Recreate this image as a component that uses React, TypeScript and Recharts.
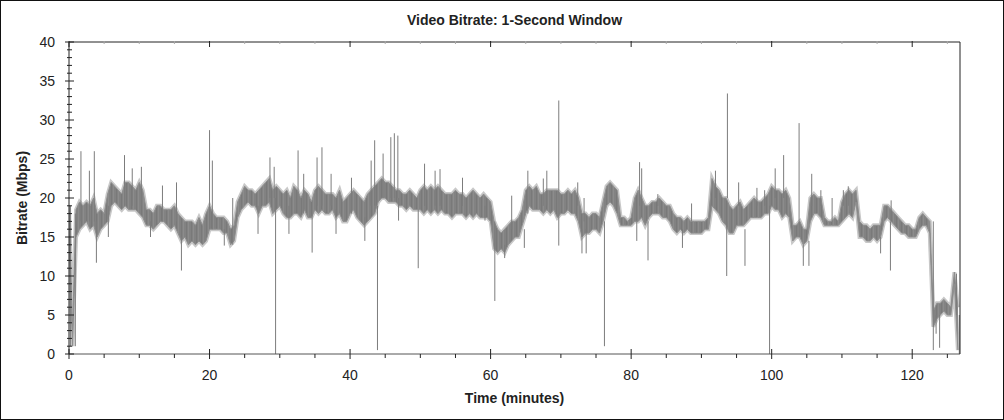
import React from "react";
import { ComposedChart, Area, Line, XAxis, YAxis } from "recharts";

// band envelope, one pair per half minute (Mbps)
const STEP_MIN = 0.5;
const BAND_LOW = [
  15, 1, 15, 16, 16.5, 17, 16, 16.5, 15, 16,
  16.5, 17, 19, 19.5, 19, 18.5, 19, 18.5, 18.5, 18.5,
  18, 17.5, 16.5, 16.5, 16, 16.5, 17, 17, 16.5, 16,
  16.5, 15.5, 14.5, 15, 14, 14.5, 14, 14.5, 14, 14.5,
  16, 16, 16, 16, 15.5, 15.5, 14, 14.5, 17.5, 18.5,
  19, 19.5, 19, 19, 18, 19, 19, 19.5, 18, 18.5,
  19, 18, 17.5, 17.5, 18, 18, 17.5, 18.5, 17.5, 17.5,
  18.5, 18, 18.5, 18, 18, 18.5, 17.5, 18, 17, 17,
  18, 18.5, 17.5, 17, 16.5, 17, 17.5, 18, 19.5, 20,
  20, 19.5, 19.5, 19.5, 19, 19, 18.5, 19, 18.5, 18.5,
  18.5, 18, 18.5, 18, 18.5, 18, 18.5, 18, 18, 17.5,
  18, 18, 18, 17.5, 18, 17.5, 18, 17.5, 17.5, 17.5,
  17, 13.5, 13, 13.5, 13, 14, 14.5, 15, 15, 16.5,
  18, 19, 18.5, 18.5, 18.5, 18, 18.5, 18, 18.5, 17.5,
  18, 18, 18.5, 18, 18, 17, 15, 15.5, 15.5, 16,
  16, 15.5, 17, 19, 19.5, 19, 18, 16.5, 16.5, 16.5,
  16.5, 17, 17, 17.5, 16.5, 17.5, 18, 18, 18, 17.5,
  17.5, 17, 16, 15.5, 16, 15.5, 16, 15.5, 15.5, 15.5,
  15.5, 16, 16, 19, 18.5, 18, 17, 16.5, 15.5, 15.5,
  16.5, 16.5, 16.5, 17, 17.5, 17.5, 17.5, 17.5, 18, 18,
  19, 18.5, 18.5, 17.5, 18, 17.5, 14.5, 15, 15, 14,
  14.5, 17, 18, 18, 17.5, 16.5, 16.5, 16.5, 16.5, 16.5,
  17, 17.5, 18, 17.5, 19.5, 15, 15, 14.5, 14.5, 15,
  14.5, 15, 17, 17.5, 17, 16.5, 16, 15.5, 15.5, 15,
  15, 15, 16, 16.5, 16.5, 15.5, 3.5, 4.5, 5, 5.5,
  5, 5, 9, 0.5,
];
const BAND_HIGH = [
  19, 3, 18.5, 19.5, 19, 19.5, 19, 20, 18, 18.5,
  18, 20.5, 22, 21.5, 21, 20.5, 22, 22, 21.5, 21,
  22, 21, 18.5, 18.5, 18, 19, 19, 18.5, 18.5, 18.5,
  19, 18, 17.5, 17, 17, 17, 16.5, 17.5, 16.5, 18,
  19, 18, 17.5, 17.5, 17.5, 17, 16, 16.5, 19.5, 20.5,
  21.5, 21, 21, 20.5, 21, 21.5, 22, 22.5, 21, 21.5,
  21, 20.5, 21, 20, 21.5, 21, 20, 21, 20.5, 19.5,
  21, 21.5, 21, 20.5, 20.5, 20.5, 20, 21, 19.5, 20,
  20.5, 21, 20.5, 20, 19.5, 20.5, 21, 21.5, 22, 22.5,
  22, 22, 21.5, 21, 21, 20.5, 20.5, 21, 20.5, 20,
  21, 21.5, 21, 21.5, 21, 21.5, 21, 20.5, 20.5, 20.5,
  21, 20.5, 20.5, 20, 20.5, 21, 20.5, 20, 20.5, 20,
  19.5, 17, 16, 15.5, 16, 16.5, 17, 17, 17.5, 18.5,
  21, 21.5, 21, 21.5, 20.5, 20.5, 21, 21, 21, 21,
  20.5, 20.5, 21, 20.5, 21, 20, 18, 18, 17.5, 18,
  18, 17.5, 19.5, 21.5, 22, 21.5, 21, 17.5, 17.5, 17,
  17.5, 20, 21, 20, 19, 19, 19.5, 19.5, 20, 19.5,
  19, 19, 18, 17.5, 17.5, 17, 17.5, 17, 17, 17,
  17, 17, 17.5, 22.5, 21.5, 21, 20, 20, 19, 18.5,
  19, 19.5, 18.5, 19, 19.5, 20, 19.5, 19.5, 20, 20.5,
  21.5, 21, 21, 20.5, 21, 20, 16.5, 16.5, 17, 16,
  16, 20, 20.5, 20, 20, 17.5, 17, 17, 17.5, 17,
  19.5, 20.5, 21, 20.5, 21, 17, 16.5, 16.5, 16, 16.5,
  16.5, 16.5, 19, 19, 18.5, 18, 17.5, 17, 16.5, 16.5,
  16, 16, 17.5, 18, 17.5, 17, 5.5, 6.5, 6.5, 7,
  6.5, 6, 10.5, 6,
];

// single-second peaks and drops: [minute, low, high]
const SPIKES: [number, number, number][] = [
  [0.2, 1, 19], [0.9, 1, 18], [1.7, 17, 26], [2.9, 17, 23.5], [3.6, 17, 26],
  [3.9, 11.7, 17], [5.6, 15, 19], [7.9, 19, 25.5], [9.0, 19, 23.8], [10.3, 19, 24],
  [11.6, 15, 17], [13.3, 17, 21.6], [15.3, 17, 22], [16.0, 10.7, 15], [20.0, 16, 28.7],
  [20.4, 16, 24.8], [22.1, 13.9, 16], [23.3, 14, 20], [26.9, 15.4, 19], [28.6, 20, 25.2],
  [29.2, 20, 24], [29.4, 0, 20], [31.3, 15.4, 19], [32.6, 18, 26.1], [33.4, 18, 23.1],
  [34.6, 13, 18], [35.3, 19, 25.2], [36.0, 19, 26.5], [37.3, 19, 23.1], [38.0, 15.4, 18.5],
  [40.2, 18, 22.6], [42.1, 14.5, 17.5], [43.0, 19, 24.8], [43.5, 19, 27.4], [43.9, 0.5, 19],
  [44.7, 20, 25.7], [45.8, 20, 27.8], [46.3, 20, 28.3], [46.8, 20, 28], [46.9, 17.1, 20],
  [49.7, 11, 18.5], [50.6, 19, 24.4], [52.1, 19, 23.5], [52.8, 19, 23.7], [56.0, 19, 22.6],
  [59.2, 17.1, 19], [60.6, 6.8, 17], [62.0, 12.3, 14], [63.0, 16, 20.3], [64.8, 13.6, 16],
  [65.3, 18, 23.5], [67.5, 19, 22.5], [68.0, 19, 23.5], [69.7, 13.9, 32.5], [72.4, 19, 22],
  [73.0, 12.9, 16], [73.3, 17, 20], [73.6, 12.9, 16], [76.2, 1, 17], [80.8, 14.5, 17],
  [81.2, 19, 24.6], [81.5, 19, 23.8], [82.4, 12, 17], [83.8, 19, 20.5], [87.3, 13.6, 16],
  [88.6, 17, 19.3], [92.0, 20, 23.5], [93.6, 10, 17], [93.7, 20, 33.4], [95.3, 19, 22],
  [96.2, 11.3, 16], [97.9, 19, 21.3], [99.0, 19, 21], [99.7, 0, 19], [100.5, 20, 23.8],
  [101.7, 20, 25.5], [103.9, 15, 29.6], [104.5, 11.3, 14], [105.3, 11.3, 14.5], [105.7, 19, 23.1],
  [107.0, 19, 21], [108.6, 17, 20], [110.2, 19, 21], [110.9, 19, 21.5], [115.5, 12.9, 15],
  [116.9, 10.7, 17], [117.0, 17, 19.7], [123.0, 0.5, 17], [123.4, 2.6, 5], [123.9, 0.8, 5],
  [126.3, 5, 10.3], [126.7, 0, 5],
];

const X_MAX = 126.8;
const X_TICKS = [0, 5, 10, 15, 20, 25, 30, 35, 40, 45, 50, 55, 60, 65, 70, 75, 80, 85, 90, 95, 100, 105, 110, 115, 120, 125];
const Y_TICKS = Array.from({ length: 41 }, (_, i) => i);

const FONT = '"Liberation Sans", Arial, sans-serif';
const INK = "#222";

const bandData = BAND_LOW.map((lo, i) => ({ t: i * STEP_MIN, lo, hi: BAND_HIGH[i] }));
const spikeData = SPIKES.flatMap(([t, lo, hi]) => [
  { t, v: lo },
  { t, v: hi },
  { t, v: null },
]);
const bandRange = (d: any) => [d.lo, d.hi];

function LeftTick(props: any) {
  const { x, y, payload } = props;
  const major = payload.value % 5 === 0;
  return (
    <g>
      <line x1={major ? x - 4 : x - 2} x2={major ? x + 5 : x + 3} y1={y} y2={y} stroke={INK} />
      {major && (
        <text x={x - 14} y={y + 5} textAnchor="end" fontSize={14} fill={INK} fontFamily={FONT}>
          {payload.value}
        </text>
      )}
    </g>
  );
}

function RightTick(props: any) {
  const { x, y, payload } = props;
  const major = payload.value % 5 === 0;
  return (
    <g>
      <line x1={major ? x - 5 : x - 3} x2={major ? x + 4 : x + 2} y1={y} y2={y} stroke={INK} />
      {major && (
        <text x={x + 13} y={y + 5} textAnchor="start" fontSize={14} fill={INK} fontFamily={FONT}>
          {payload.value}
        </text>
      )}
    </g>
  );
}

function BottomTick(props: any) {
  const { x, y, payload } = props;
  const major = payload.value % 20 === 0;
  return (
    <g>
      <line x1={x} x2={x} y1={major ? y - 5 : y} y2={major ? y + 5 : y + 4} stroke={INK} />
      {major && (
        <text x={x} y={y + 26} textAnchor="middle" fontSize={14} fill={INK} fontFamily={FONT}>
          {payload.value}
        </text>
      )}
    </g>
  );
}

function TopTick(props: any) {
  const { x, y, payload } = props;
  const major = payload.value % 20 === 0;
  return <line x1={x} x2={x} y1={y - 1} y2={major ? y + 5 : y + 2} stroke={major ? INK : "#aaa"} />;
}

export default function App() {
  return (
    <div style={{ position: "fixed", left: 0, top: 0, width: 1004, height: 420, background: "#fff", fontFamily: FONT }}>
      <ComposedChart
        width={1004}
        height={420}
        data={bandData}
        margin={{ top: 12, right: 0, bottom: 0, left: 0 }}
        style={{ position: "absolute", left: 0, top: 0 }}
      >
        <defs>
          <pattern id="streaks" width="5" height="6" patternUnits="userSpaceOnUse">
            <rect width="5" height="6" fill="#828282" />
            <rect x="1" width="1" height="6" fill="#797979" />
            <rect x="3" width="1" height="6" fill="#8c8c8c" />
          </pattern>
        </defs>
        <XAxis
          xAxisId="b"
          dataKey="t"
          type="number"
          domain={[0, X_MAX]}
          allowDataOverflow
          ticks={X_TICKS}
          interval={0}
          tickSize={0}
          tickMargin={0}
          tickLine={false}
          tick={BottomTick}
          axisLine={{ stroke: "#555" }}
          height={66}
        />
        <XAxis
          xAxisId="t"
          orientation="top"
          dataKey="t"
          type="number"
          domain={[0, X_MAX]}
          allowDataOverflow
          ticks={X_TICKS}
          interval={0}
          tickSize={0}
          tickMargin={0}
          tickLine={false}
          tick={TopTick}
          axisLine={{ stroke: INK }}
          height={30}
        />
        <YAxis
          yAxisId="l"
          type="number"
          domain={[0, 40]}
          ticks={Y_TICKS}
          interval={0}
          tickSize={0}
          tickMargin={0}
          tickLine={false}
          tick={LeftTick}
          axisLine={{ stroke: INK }}
          width={69}
        />
        <YAxis
          yAxisId="r"
          orientation="right"
          type="number"
          domain={[0, 40]}
          ticks={Y_TICKS}
          interval={0}
          tickSize={0}
          tickMargin={0}
          tickLine={false}
          tick={RightTick}
          axisLine={{ stroke: INK }}
          width={44}
        />
        {/* soft halo around the band */}
        <Area
          xAxisId="b"
          yAxisId="l"
          type="linear"
          dataKey={bandRange}
          stroke="#c8c8c8"
          strokeWidth={4}
          fill="#c8c8c8"
          fillOpacity={1}
          isAnimationActive={false}
          dot={false}
          activeDot={false}
        />
        <Area
          xAxisId="b"
          yAxisId="l"
          type="linear"
          dataKey={bandRange}
          stroke="#8e8e8e"
          strokeWidth={1}
          fill="url(#streaks)"
          fillOpacity={1}
          isAnimationActive={false}
          dot={false}
          activeDot={false}
        />
        <Line
          xAxisId="b"
          yAxisId="l"
          data={spikeData}
          dataKey="v"
          type="linear"
          stroke="#7c7c7c"
          strokeWidth={1}
          dot={false}
          activeDot={false}
          connectNulls={false}
          isAnimationActive={false}
        />
      </ComposedChart>
      <div style={{ position: "absolute", left: 69, width: 891, top: 12, textAlign: "center", fontWeight: "bold", fontSize: 14, color: INK }}>
        Video Bitrate: 1-Second Window
      </div>
      <div style={{ position: "absolute", left: 69, width: 891, top: 390, textAlign: "center", fontWeight: "bold", fontSize: 14, color: INK }}>
        Time (minutes)
      </div>
      <div
        style={{
          position: "absolute",
          left: 22,
          top: 198,
          transform: "translate(-50%, -50%) rotate(-90deg)",
          whiteSpace: "nowrap",
          fontWeight: "bold",
          fontSize: 14,
          color: INK,
        }}
      >
        Bitrate (Mbps)
      </div>
      <div style={{ position: "absolute", inset: 0, border: "1px solid #111", boxSizing: "border-box", pointerEvents: "none" }} />
    </div>
  );
}
